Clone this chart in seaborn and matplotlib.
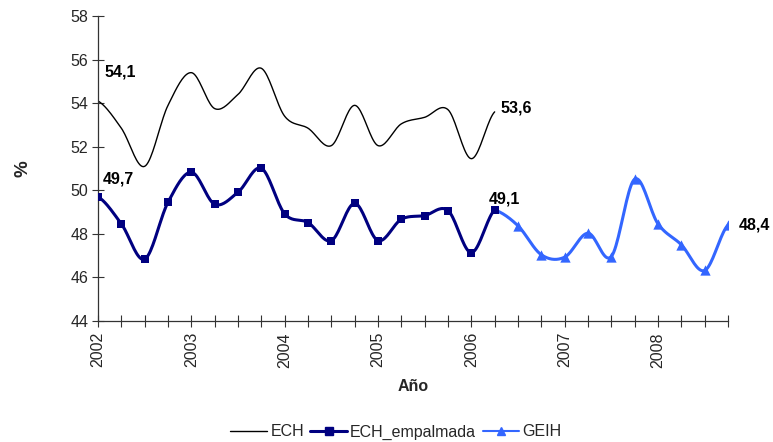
import numpy as np
import pandas as pd
import matplotlib
matplotlib.use("Agg")
import matplotlib.pyplot as plt
import seaborn as sns
from matplotlib.lines import Line2D

# ---- data (quarterly) ----
ech_x = [2002.0, 2002.25, 2002.5, 2002.75, 2003.0, 2003.25, 2003.5, 2003.75, 2004.0,
         2004.25, 2004.5, 2004.75, 2005.0, 2005.25, 2005.5, 2005.75, 2006.0, 2006.25]
ech = [54.1, 52.85, 51.1, 53.9, 55.4, 53.75, 54.4, 55.6, 53.4,
       52.85, 52.05, 53.9, 52.05, 53.05, 53.35, 53.7, 51.45, 53.6]
emp = [49.7, 48.46, 46.84, 49.45, 50.83, 49.36, 49.91, 51.01, 48.92,
       48.52, 47.69, 49.4, 47.69, 48.67, 48.84, 49.07, 47.14, 49.1]
geih_x = [2006.25, 2006.5, 2006.75, 2007.0, 2007.25, 2007.5, 2007.75, 2008.0,
          2008.25, 2008.5, 2008.75]
geih = [49.1, 48.37, 47.04, 46.93, 48.03, 46.96, 50.51, 48.46, 47.5, 46.32, 48.4]
year_ticks = [2002, 2003, 2004, 2005, 2006, 2007, 2008]
y_ticks = [44, 46, 48, 50, 52, 54, 56, 58]


def smooth(x, y, n=20):
    """Catmull-Rom style smoothing (like Excel's smoothed line) for display."""
    x = np.asarray(x, float); y = np.asarray(y, float)
    px = np.concatenate([[2 * x[0] - x[1]], x, [2 * x[-1] - x[-2]]])
    py = np.concatenate([[y[0]], y, [y[-1]]])
    xs, ys = [], []
    t = np.linspace(0, 1, n, endpoint=False)
    for i in range(1, len(px) - 2):
        p0, p1, p2, p3 = [np.array([px[j], py[j]]) for j in (i - 1, i, i + 1, i + 2)]
        c1 = p1 + (p2 - p0) / 6
        c2 = p2 - (p3 - p1) / 6
        pts = ((1 - t) ** 3)[:, None] * p1 + (3 * (1 - t) ** 2 * t)[:, None] * c1 \
            + (3 * (1 - t) * t ** 2)[:, None] * c2 + (t ** 3)[:, None] * p2
        xs.extend(pts[:, 0]); ys.extend(pts[:, 1])
    xs.append(x[-1]); ys.append(y[-1])
    return np.array(xs), np.array(ys)


sns.set_theme(style="white")
plt.rcParams['font.family'] = ['Liberation Sans', 'DejaVu Sans']

fig = plt.figure(figsize=(7.73, 4.42), dpi=100)
ax = fig.add_axes([98 / 773, 1 - 321 / 442, (728 - 98) / 773, (321 - 16) / 442])

NAVY = "#000080"
BLUE = "#3366FF"

sx, sy = smooth(geih_x, geih)
sns.lineplot(x=sx, y=sy, ax=ax, color=BLUE, linewidth=2.2, sort=False, estimator=None)
sns.scatterplot(x=geih_x[1:], y=geih[1:], ax=ax, color=BLUE, marker="^", s=55,
                edgecolor=BLUE, linewidth=0, zorder=4)

sx, sy = smooth(ech_x, emp)
sns.lineplot(x=sx, y=sy, ax=ax, color=NAVY, linewidth=2.2, sort=False, estimator=None)
sns.scatterplot(x=ech_x, y=emp, ax=ax, color=NAVY, marker="s", s=40,
                edgecolor=NAVY, linewidth=0, zorder=5)

sx, sy = smooth(ech_x, ech)
sns.lineplot(x=sx, y=sy, ax=ax, color="black", linewidth=1.0, sort=False, estimator=None)

ax.set_xlim(2002, 2008.75)
ax.set_ylim(44, 58)
ax.set_yticks(y_ticks)
ax.set_yticklabels([str(v) for v in y_ticks], fontsize=11.5)
ax.set_xticks(np.arange(2002, 2008.76, 0.25), minor=True)
ax.set_xticks(year_ticks)
ax.set_xticklabels([str(v) for v in year_ticks], rotation=90, fontsize=11.5)
ax.tick_params(axis="x", which="both", direction="inout", length=8, width=0.8,
               color="#333333", bottom=True, pad=4)
ax.tick_params(axis="y", direction="inout", length=8, width=0.8, color="#333333",
               left=True, pad=3)
for s in ["top", "right"]:
    ax.spines[s].set_visible(False)
for s in ["left", "bottom"]:
    ax.spines[s].set_color("#333333")
    ax.spines[s].set_linewidth(0.9)
ax.grid(False)

ax.set_xlabel("Año", fontsize=11.5, fontweight="bold", labelpad=8)
ax.set_ylabel("%", fontsize=13.5, fontweight="bold", labelpad=28)

kw = dict(fontsize=11.5, fontweight="bold", color="black", textcoords="offset points",
          va="center", ha="left")


def lab(v):
    return f"{v:.1f}".replace(".", ",")


ax.annotate(lab(ech[0]), (ech_x[0], ech[0]), xytext=(5, 21), **kw)
ax.annotate(lab(emp[0]), (ech_x[0], emp[0]), xytext=(3.4, 13), **kw)
ax.annotate(lab(ech[-1]), (ech_x[-1], ech[-1]), xytext=(4.3, 2.9), **kw)
ax.annotate(lab(emp[-1]), (ech_x[-1], emp[-1]), xytext=(-4.5, 7.7), **kw)
ax.annotate(lab(geih[-1]), (geih_x[-1], geih[-1]), xytext=(7.7, 0), **kw)

handles = [
    Line2D([], [], color="black", linewidth=1.0),
    Line2D([], [], color=NAVY, linewidth=2.2, marker="s", markersize=6),
    Line2D([], [], color=BLUE, linewidth=1.5, marker="^", markersize=6),
]
fig.legend(handles, ["ECH", "ECH_empalmada", "GEIH"], loc="center",
           bbox_to_anchor=(396 / 773, 1 - 432 / 442), ncol=3, frameon=False,
           fontsize=11.5, handlelength=2.3, handletextpad=0.2, columnspacing=0.4)

fig.savefig("out.png", dpi=100)
